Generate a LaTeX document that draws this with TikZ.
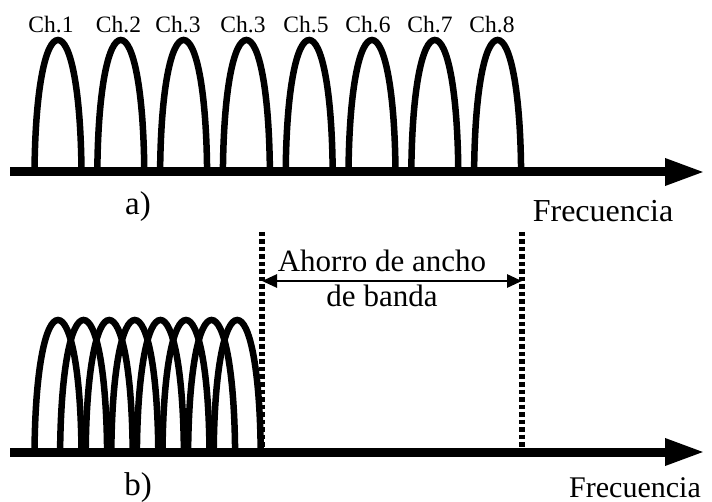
\documentclass[tikz,border=0pt]{standalone}
\usepackage{fontspec}
\setmainfont{Liberation Serif}
\usetikzlibrary{arrows.meta}
\begin{document}
\begin{tikzpicture}[x=1pt,y=-1pt,
  archline/.style={line width=6.5pt},
  axisline/.style={line width=9pt,-{Triangle[length=40pt,width=25pt]}},
  dotline/.style={line width=6pt,dash pattern=on 4.5pt off 3pt},
  dimarrow/.style={line width=2.8pt,{Triangle[length=15pt,width=13pt]}-{Triangle[length=15pt,width=13pt]}},
  chlabel/.style={anchor=base,inner sep=0pt,font=\fontsize{23.5}{27}\selectfont},
  biglabel/.style={anchor=base,inner sep=0pt,font=\fontsize{32}{36}\selectfont},
  midlabel/.style={anchor=base,inner sep=0pt,font=\fontsize{30}{34}\selectfont},
  partlabel/.style={anchor=base,inner sep=0pt,font=\fontsize{33}{37}\selectfont}]
\useasboundingbox (0,0) rectangle (712,502);
\def\archW{23.5}
\def\archH{132}
% top arches
\foreach \i in {0,...,7}{
  \pgfmathsetmacro{\cx}{58+62.8*\i}
  \draw[archline] (\cx-\archW,172) .. controls (\cx-0.97*\archW,172-0.64*\archH) and (\cx-0.52*\archW,172-\archH) .. (\cx,172-\archH)
     .. controls (\cx+0.52*\archW,172-\archH) and (\cx+0.97*\archW,172-0.64*\archH) .. (\cx+\archW,172);
}
% bottom arches
\foreach \i in {0,...,7}{
  \pgfmathsetmacro{\cx}{58+25.6*\i}
  \draw[archline] (\cx-\archW,452) .. controls (\cx-0.97*\archW,452-0.64*\archH) and (\cx-0.52*\archW,452-\archH) .. (\cx,452-\archH)
     .. controls (\cx+0.52*\archW,452-\archH) and (\cx+0.97*\archW,452-0.64*\archH) .. (\cx+\archW,452);
}
% axes
\coordinate (a1) at (10,172);
\coordinate (a2) at (705,172);
\coordinate (b1) at (10,452);
\coordinate (b2) at (705,452);
\draw[axisline] (a1) -- (a2);
\draw[axisline] (b1) -- (b2);
% channel labels
\node[chlabel] (c1) at (51,33) {Ch.1};
\node[chlabel] (c2) at (118.5,33) {Ch.2};
\node[chlabel] (c3) at (178,33) {Ch.3};
\node[chlabel] (c4) at (243,33) {Ch.3};
\node[chlabel] (c5) at (306,33) {Ch.5};
\node[chlabel] (c6) at (368,33) {Ch.6};
\node[chlabel] (c7) at (430,33) {Ch.7};
\node[chlabel] (c8) at (492,33) {Ch.8};
% labels
\node[partlabel] (la) at (138,215) {a)};
\node[partlabel] (lb) at (138,495) {b)};
\node[biglabel] (fa) at (603,222) {Frecuencia};
\node[midlabel] (fb) at (635,497) {Frecuencia};
% dotted lines
\coordinate (d1t) at (262,232);
\coordinate (d1b) at (262,452);
\coordinate (d2t) at (522,232);
\coordinate (d2b) at (522,452);
\draw[dotline] (d1t) -- (d1b);
\draw[dotline] (d2t) -- (d2b);
% dimension arrow
\coordinate (h1) at (262,281);
\coordinate (h2) at (522,281);
\draw[dimarrow] (h1) -- (h2);
\node[biglabel,font=\fontsize{31}{35}\selectfont] (t1) at (382,272) {Ahorro de ancho};
\node[biglabel,font=\fontsize{31}{35}\selectfont] (t2) at (382,307) {de banda};
\end{tikzpicture}
\end{document}
